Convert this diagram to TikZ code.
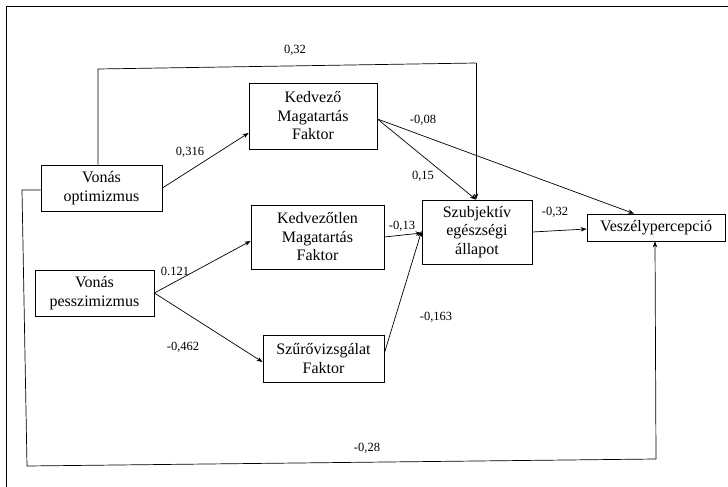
\documentclass[tikz,border=0pt]{standalone}
\usepackage{fontspec}
\setmainfont{Liberation Serif}
\usetikzlibrary{arrows.meta}
\begin{document}
\begin{tikzpicture}[x=1pt,y=-1pt,
  box/.style={draw, line width=0.8pt, inner sep=0pt, align=center,
    font=\fontsize{16}{18.5}\selectfont},
  lab/.style={font=\fontsize{12.5}{14}\selectfont, inner sep=0pt},
  conn/.style={line width=0.7pt, -{Stealth[length=6pt,width=4.5pt]}},
  plain/.style={line width=0.7pt}]
\useasboundingbox (0,0) rectangle (728,487);
\draw[line width=1pt] (6.5,487) -- (6.5,7) -- (728,7);

\node[box, minimum width=121pt, minimum height=46pt] (opt) at (101.5,188) {Vonás\\optimizmus};
\node[box, minimum width=128pt, minimum height=66pt] (kedv) at (313,116) {Kedvező\\Magatartás\\Faktor};
\node[box, minimum width=133pt, minimum height=64pt] (kedvtl) at (317.5,237) {Kedvezőtlen\\Magatartás\\Faktor};
\node[box, minimum width=119pt, minimum height=46pt] (pessz) at (94.5,293) {Vonás\\pesszimizmus};
\node[box, minimum width=121pt, minimum height=47pt] (szuro) at (323.5,358.5) {Szűrővizsgálat\\Faktor};
\node[box, minimum width=110pt, minimum height=64pt] (szubj) at (477,232) {Szubjektív\\egészségi\\állapot};
\node[box, minimum width=138pt, minimum height=27pt] (vesz) at (656,227.5) {Veszélypercepció};

% 0,32 path
\coordinate (a1) at (98,69);
\coordinate (a2) at (476,63);
\draw[plain] (opt.north -| a1) -- (a1) -- (a2);
\draw[conn] (a2) -- (szubj.north -| a2);

\draw[conn] (opt.east) -- (kedv.west |- 0,133);
\coordinate (kr) at (kedv.east |- 0,119);
\draw[conn] (kr) -- (szubj.north -| a2);
\draw[conn] (kr) -- (vesz.north -| 634,0);

\coordinate (pr) at (pessz.east);
\draw[conn] (pr) -- (kedvtl.west |- 0,241);
\draw[conn] (pr) -- (szuro.west |- 0,362);

\draw[conn] (kedvtl.east |- 0,237) -- (szubj.west |- 0,233);
\draw[conn] (szuro.east |- 0,353) -- (szubj.west |- 0,231);
\draw[conn] (szubj.east) -- (vesz.west |- 0,229);

% -0,28 path
\coordinate (b1) at (22,190);
\coordinate (b2) at (27,466);
\coordinate (b3) at (656,459);
\draw[plain] (opt.west |- b1) -- (b1) -- (b2) -- (b3);
\draw[conn] (b3) -- (vesz.south -| 655,0);

\node[lab] (l1) at (295,50) {0,32};
\node[lab] (l2) at (190,152) {0,316};
\node[lab] (l3) at (423,120) {-0,08};
\node[lab] (l4) at (423,176) {0,15};
\node[lab] (l5) at (402,226) {-0,13};
\node[lab] (l6) at (555,212) {-0,32};
\node[lab] (l7) at (175,271) {0.121};
\node[lab] (l8) at (183,347) {-0,462};
\node[lab] (l9) at (436,317) {-0,163};
\node[lab] (l10) at (367,448) {-0,28};
\end{tikzpicture}
\end{document}
